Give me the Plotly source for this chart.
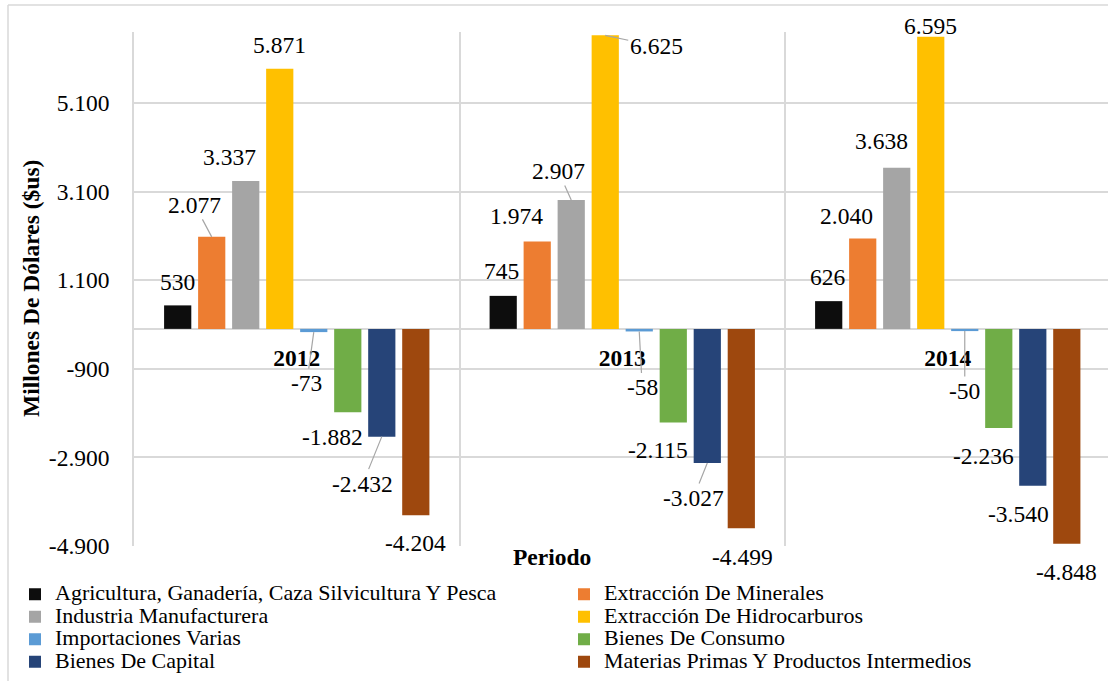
import plotly.graph_objects as go

# ---- data -------------------------------------------------------------
years = ["2012", "2013", "2014"]

series_names = [
    "Agricultura, Ganadería, Caza Silvicultura Y Pesca",
    "Extracción De Minerales",
    "Industria Manufacturera",
    "Extracción De Hidrocarburos",
    "Importaciones Varias",
    "Bienes De Consumo",
    "Bienes De Capital",
    "Materias Primas Y Productos Intermedios",
]

agricultura = [530, 745, 626]
minerales = [2077, 1974, 2040]
manufacturera = [3337, 2907, 3638]
hidrocarburos = [5871, 6625, 6595]
importaciones = [-73, -58, -50]
consumo = [-1882, -2115, -2236]
capital = [-2432, -3027, -3540]
materias = [-4204, -4499, -4848]

y_tick_values = [-4900, -2900, -900, 1100, 3100, 5100]
y_tick_labels = ["-4.900", "-2.900", "-900", "1.100", "3.100", "5.100"]

series_values = [agricultura, minerales, manufacturera, hidrocarburos,
                 importaciones, consumo, capital, materias]

# ---- styling ------------------------------------------------------------
colors = ["#0d0d0d", "#ed7d31", "#a5a5a5", "#ffc000",
          "#5b9bd5", "#70ad47", "#264478", "#9e480e"]

FONT = "'Liberation Serif', 'Times New Roman', Times, serif"
GRID = "#d9d9d9"
LEADER = "#a6a6a6"
TXT = "#000000"

W, H = 1108, 681
L, T = 134, 32
PW, PH = 974, 514
B = H - T - PH
Y_RANGE = [-4900, 6700]
X_RANGE = [-0.5, -0.5 + PW / 325.5]
BARGAP = 0.164
N = len(series_names)


def px_x(px):
    return (px - L) / PW


def px_y(py):
    return (T + PH - py) / PH


def fmt(v):
    return f"{v:,}".replace(",", ".")


# label offsets in pixels from each bar end: (dx, dy, leader line)
label_offsets = {
    "2012": [(0, -23, 0), (-17, -32, 1), (-16, -24, 0), (0, -24, 0),
             (-7, 51, 1), (-15, 25, 0), (-19, 47, 1), (0, 28, 0)],
    "2013": [(-2, -25, 0), (-21, -25, 0), (-13, -29, 1), (51, 11, 1),
             (3, 56, 1), (-15, 27, 0), (-14, 35, 1), (1, 29, 0)],
    "2014": [(-1, -24, 0), (-16, -22, 0), (-15, -27, 0), (0, -11, 0),
             (0, 60, 1), (-15, 28, 0), (-14, 28, 0), (0, 28, 0)],
}

fig = go.Figure()
for i, (name, vals) in enumerate(zip(series_names, series_values)):
    fig.add_trace(go.Bar(
        x=years, y=vals,
        name=f'<span style="font-size:22px">{name}</span>',
        marker=dict(color=colors[i], line=dict(width=0)),
        legend="legend" if i % 2 == 0 else "legend2",
        hovertemplate=f"{name}<br>%{{x}}: %{{y}}<extra></extra>",
    ))

annotations = []
slot = (1 - BARGAP) / N
for j, yr in enumerate(years):
    for i, vals in enumerate(series_values):
        dx, dy, lead = label_offsets[yr][i]
        annotations.append(dict(
            x=j - (1 - BARGAP) / 2 + slot * (i + 0.5), y=vals[j],
            xref="x", yref="y", text=fmt(vals[j]),
            showarrow=True, arrowhead=0, arrowwidth=1.2, standoff=0,
            arrowcolor=LEADER if lead else "rgba(0,0,0,0)",
            ax=dx, ay=dy, font=dict(family=FONT, size=23.5, color=TXT),
        ))

annotations.append(dict(
    x=px_x(31), y=px_y(289), xref="paper", yref="paper",
    text="<b>Millones De Dólares ($us)</b>", textangle=-90, showarrow=False,
    xanchor="center", yanchor="middle",
    font=dict(family=FONT, size=23.5, color=TXT),
))
annotations.append(dict(
    x=px_x(552), y=px_y(557), xref="paper", yref="paper",
    text="<b>Periodo</b>", showarrow=False,
    xanchor="center", yanchor="middle",
    font=dict(family=FONT, size=23.5, color=TXT),
))

# chart frame (left and top edges)
shapes = [
    dict(type="line", xref="paper", yref="paper", x0=px_x(8), x1=px_x(8),
         y0=px_y(5), y1=px_y(H + 10), line=dict(color=GRID, width=1.5)),
    dict(type="line", xref="paper", yref="paper", x0=px_x(8), x1=px_x(W + 10),
         y0=px_y(5), y1=px_y(5), line=dict(color=GRID, width=1.5)),
]

legend_common = dict(
    orientation="v", xanchor="left", yanchor="top",
    font=dict(family=FONT, size=15, color=TXT),
    bgcolor="rgba(0,0,0,0)", borderwidth=0, itemwidth=30,
    tracegroupgap=0,
)

fig.update_layout(
    width=W, height=H,
    margin=dict(l=L, r=W - L - PW, t=T, b=B, autoexpand=False),
    paper_bgcolor="white", plot_bgcolor="white",
    barmode="group", bargap=BARGAP, bargroupgap=0.2,
    font=dict(family=FONT, color=TXT),
    showlegend=True,
    legend=dict(x=px_x(15), y=px_y(578), **legend_common),
    legend2=dict(x=px_x(564), y=px_y(578), **legend_common),
    annotations=annotations,
    shapes=shapes,
    xaxis=dict(
        range=X_RANGE, type="category", tickson="boundaries",
        showgrid=True, gridcolor=GRID, gridwidth=1.5,
        anchor="free", position=(0 - Y_RANGE[0]) / (Y_RANGE[1] - Y_RANGE[0]),
        showline=False, ticks="", ticklabelstandoff=13,
        tickfont=dict(family=FONT, size=23.5, color=TXT, weight="bold"),
    ),
    yaxis=dict(
        range=Y_RANGE, tickvals=y_tick_values, ticktext=y_tick_labels,
        showgrid=True, gridcolor=GRID, gridwidth=1.5,
        zeroline=True, zerolinecolor=GRID, zerolinewidth=1.5,
        showline=True, linecolor=GRID, linewidth=1.5,
        ticks="", ticklabelstandoff=18,
        tickfont=dict(family=FONT, size=23.5, color=TXT),
    ),
)

fig.write_html("out.html")
